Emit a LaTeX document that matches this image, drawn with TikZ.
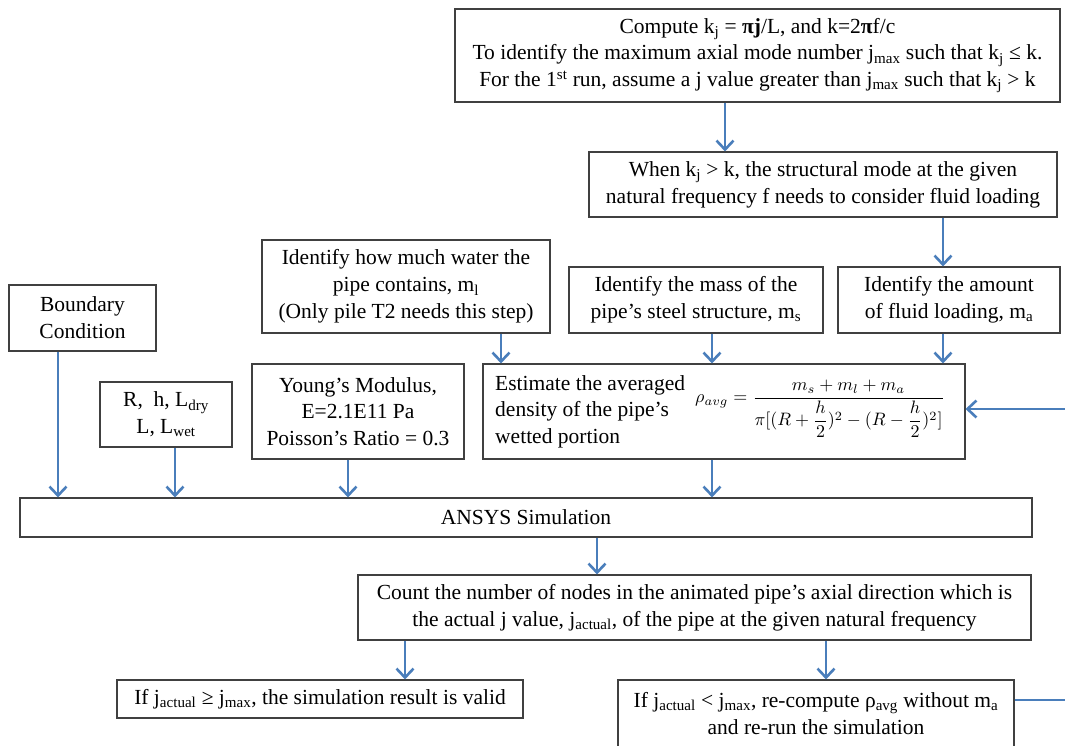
\documentclass[tikz,border=0pt]{standalone}
\usepackage{graphicx}
\usepackage{fontspec}
\setmainfont{Liberation Serif}
\usetikzlibrary{arrows.meta,calc}
\definecolor{arr}{HTML}{4A7EBB}
\definecolor{bord}{HTML}{404040}
\tikzset{
  box/.style={draw=bord, line width=1.1pt, align=center, inner sep=0pt, fill=white,
    font=\fontsize{21.5}{26.8}\selectfont},
  txt/.style={inner sep=0pt, font=\fontsize{21.5}{26.5}\selectfont},
  flow/.style={draw=arr, line width=2.8pt, -{Straight Barb[length=9pt,width=17pt,line width=2.6pt]}},
  flowline/.style={draw=arr, line width=2.8pt},
}
\newcommand{\sbs}[1]{\textsubscript{#1}}
\newcommand{\halfh}{{\displaystyle\frac{h}{2}}}
\begin{document}
\begin{tikzpicture}[x=1pt,y=-1pt]
\useasboundingbox (0,0) rectangle (1065,745);
\clip (0,0) rectangle (1065,745);
\fill[white] (0,0) rectangle (1065,745);

\node[box, minimum width=605pt, minimum height=93pt] (top) at (757.5,55.5)
 {Compute k\sbs{j} = \textbf{πj}/L, and k=2\textbf{π}f/c\\
  To identify the maximum axial mode number j\sbs{max} such that k\sbs{j} ≤ k.\\
  For the 1\textsuperscript{st} run, assume a j value greater than j\sbs{max} such that k\sbs{j} > k};

\node[box, minimum width=468pt, minimum height=65pt] (when) at (823,184.5)
 {When k\sbs{j} > k, the structural mode at the given\\
  natural frequency f needs to consider fluid loading};

\node[box, minimum width=147pt, minimum height=66pt] (bc) at (82.5,318)
 {Boundary\\ Condition};
\node[box, minimum width=288pt, minimum height=93pt] (water) at (406,286.5)
 {Identify how much water the\\ pipe contains, m\sbs{l}\\ (Only pile T2 needs this step)};
\node[box, minimum width=254pt, minimum height=66pt] (mass) at (696,300)
 {Identify the mass of the\\ pipe’s steel structure, m\sbs{s}};
\node[box, minimum width=222pt, minimum height=66pt] (fluid) at (949,300)
 {Identify the amount\\ of fluid loading, m\sbs{a}};

\node[box, minimum width=132pt, minimum height=65pt] (rh) at (166,414.5)
 {R,\ \ h, L\sbs{dry}\\ L, L\sbs{wet}};
\node[box, minimum width=212pt, minimum height=95pt] (young) at (358,411.5)
 {Young’s Modulus,\\ E=2.1E11 Pa\\ Poisson’s Ratio = 0.3};
\node[box, minimum width=482pt, minimum height=95pt] (est) at (724,411.5) {};
\node[txt, anchor=west, align=left] (estt) at (495,411.5)
 {Estimate the averaged\\ density of the pipe’s\\ wetted portion};
\node[inner sep=0pt, anchor=west] (form) at (695,409)
 {\scalebox{1.8}{$\displaystyle \rho_{avg}=\frac{m_s+m_l+m_a}{\pi[(R+\halfh)^2-(R-\halfh)^2]}$}};

\node[box, minimum width=1012pt, minimum height=39pt] (ansys) at (526,517.5)
 {ANSYS Simulation};
\node[box, minimum width=673pt, minimum height=65pt] (count) at (694.5,607.5)
 {Count the number of nodes in the animated pipe’s axial direction which is\\
  the actual j value, j\sbs{actual}, of the pipe at the given natural frequency};
\node[box, minimum width=406pt, minimum height=38pt] (valid) at (320,699)
 {If j\sbs{actual} ≥ j\sbs{max}, the simulation result is valid};
\node[box, minimum width=396pt, minimum height=67pt] (redo) at (816,713.5)
 {If j\sbs{actual} < j\sbs{max}, re-compute ρ\sbs{avg} without m\sbs{a}\\ and re-run the simulation};

\coordinate (rin) at (1070,409);
\coordinate (rout) at (1070,700);

\draw[flow] (725,0 |- top.south) -- (725,0 |- when.north);
\draw[flow] (943,0 |- when.south) -- (943,0 |- fluid.north);
\draw[flow] (501,0 |- water.south) -- (501,0 |- est.north);
\draw[flow] (712,0 |- mass.south) -- (712,0 |- est.north);
\draw[flow] (943,0 |- fluid.south) -- (943,0 |- est.north);
\draw[flow] (rin) -- (rin -| est.east);
\draw[flow] (58,0 |- bc.south) -- (58,0 |- ansys.north);
\draw[flow] (175,0 |- rh.south) -- (175,0 |- ansys.north);
\draw[flow] (348,0 |- young.south) -- (348,0 |- ansys.north);
\draw[flow] (712,0 |- est.south) -- (712,0 |- ansys.north);
\draw[flow] (597,0 |- ansys.south) -- (597,0 |- count.north);
\draw[flow] (405,0 |- count.south) -- (405,0 |- valid.north);
\draw[flow] (826,0 |- count.south) -- (826,0 |- redo.north);
\draw[flowline] (rout -| redo.east) -- (rout);
\end{tikzpicture}
\end{document}
